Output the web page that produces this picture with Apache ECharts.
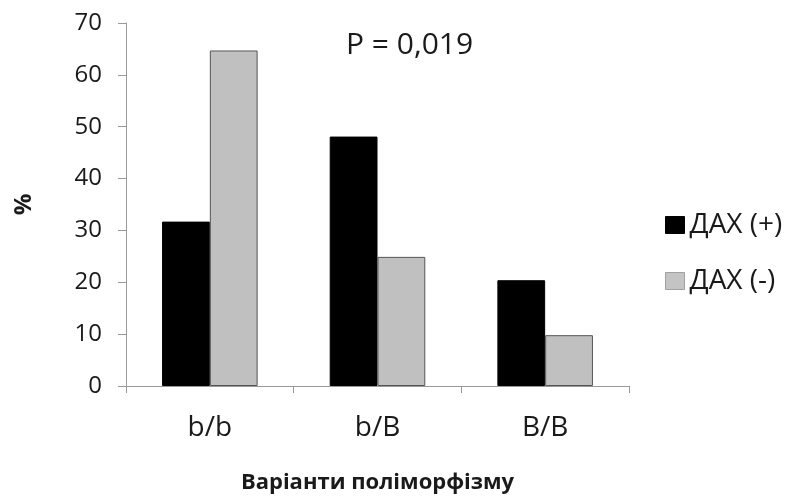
<!DOCTYPE html>
<html><head><meta charset="utf-8">
<script src="https://cdn.jsdelivr.net/npm/echarts@6/dist/echarts.min.js"></script>
<style>html,body{margin:0;padding:0;background:#fff}#c{width:792px;height:496px}</style>
</head><body><div id="c"></div>
<script>
const categories = ['b/b', 'b/B', 'B/B'];
const seriesNames = ['ДАХ (+)', 'ДАХ (-)'];
const daxPlus = [31.7, 48.1, 20.4];
const daxMinus = [64.7, 24.9, 9.8];
const yTicks = {min: 0, max: 70, interval: 10};

const font = 'Open Sans, Noto Sans, sans-serif';
const chart = echarts.init(document.getElementById('c'), null, {renderer: 'canvas'});
chart.setOption({
  animation: false,
  backgroundColor: '#fff',
  title: {text: 'P = 0,019', left: 346, top: 30, padding: 0,
    textStyle: {fontFamily: font, fontSize: 30, fontWeight: 'normal', color: '#1a1a1a'}},
  legend: {
    orient: 'vertical', left: 665, top: 211, padding: 0, itemWidth: 19, itemHeight: 17, itemGap: 28,
    icon: 'rect',
    textStyle: {fontFamily: font, fontSize: 28, color: '#1a1a1a'},
    data: [
      {name: seriesNames[0], itemStyle: {color: '#000', borderColor: '#000', borderWidth: 1}},
      {name: seriesNames[1], itemStyle: {color: '#c4c4c4', borderColor: '#a0a0a0', borderWidth: 1}}
    ]
  },
  grid: {left: 126, right: 163, top: 23, bottom: 110, containLabel: false, outerBoundsMode: 'none'},
  xAxis: {
    type: 'category', data: categories,
    name: 'Варіанти поліморфізму', nameLocation: 'middle', nameGap: 86,
    nameTextStyle: {fontFamily: font, fontSize: 22, fontWeight: 'bold', color: '#1a1a1a'},
    axisLine: {lineStyle: {color: '#999'}},
    axisTick: {show: true, length: 7, lineStyle: {color: '#999'}},
    axisLabel: {fontFamily: font, fontSize: 28, color: '#1a1a1a', margin: 28}
  },
  yAxis: {
    type: 'value', min: yTicks.min, max: yTicks.max, interval: yTicks.interval,
    name: '%', nameLocation: 'middle', nameGap: 90, nameRotate: 90,
    nameTextStyle: {fontFamily: font, fontSize: 24, fontWeight: 'bold', color: '#1a1a1a'},
    axisLine: {show: true, lineStyle: {color: '#999'}},
    axisTick: {show: true, length: 8, inside: false, lineStyle: {color: '#999'}},
    splitLine: {show: false},
    axisLabel: {fontFamily: font, fontSize: 24, color: '#1a1a1a', margin: 24}
  },
  series: [
    {name: seriesNames[0], type: 'bar', data: daxPlus, barGap: '0%', barCategoryGap: '43%',
     itemStyle: {color: '#000', borderColor: '#000', borderWidth: 1}},
    {name: seriesNames[1], type: 'bar', data: daxMinus,
     itemStyle: {color: '#c0c0c0', borderColor: '#555', borderWidth: 1}}
  ]
});
</script></body></html>
